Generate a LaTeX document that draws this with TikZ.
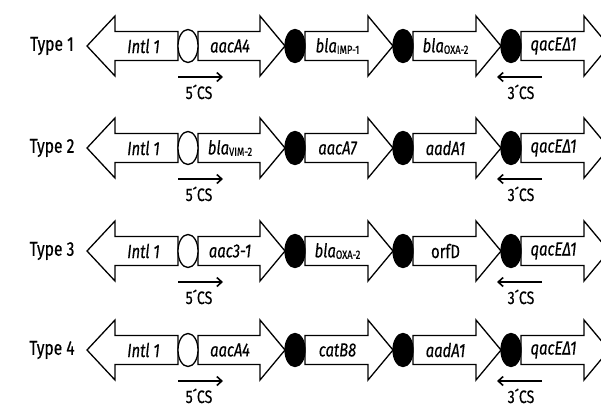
\documentclass[tikz,border=0pt]{standalone}
\usepackage{fontspec}
\setmainfont{Fira Sans}[FakeStretch=0.78, FakeBold=0.4]
\usetikzlibrary{arrows.meta}
\tikzset{
  gene/.style={draw=black, line width=1.3pt, fill=white, line join=miter},
  site/.style={draw=black, line width=1.3pt},
  attI/.style={site, fill=white},
  attC/.style={site, fill=black},
  glabel/.style={font=\fontsize{19}{19}\selectfont\itshape, inner sep=0pt},
  rowlabel/.style={font=\fontsize{20}{20}\selectfont, inner sep=0pt},
  cslabel/.style={font=\fontsize{18}{18}\selectfont, inner sep=0pt, text depth=0pt, anchor=base},
  primer/.style={line width=1.8pt, -{Straight Barb[length=5pt,width=9pt,line width=1.6pt]}},
}
% left-pointing (integrase) and right-pointing (cassette) gene arrows
\newcommand{\leftgene}[4]{% name, body right x, head base x, tip x  (y = \rowy)
  \draw[gene] (#4,\rowy) -- (#3,\rowy-30) -- (#3,\rowy-14.5) -- (#2,\rowy-14.5)
    -- (#2,\rowy+14.5) -- (#3,\rowy+14.5) -- (#3,\rowy+30) -- cycle;
  \coordinate (#1) at ({(#2+#3)/2-3},\rowy);}
\newcommand{\rightgene}[4]{% name, body left x, head base x, tip x
  \draw[gene] (#2,\rowy-14.5) -- (#3,\rowy-14.5) -- (#3,\rowy-30) -- (#4,\rowy)
    -- (#3,\rowy+30) -- (#3,\rowy+14.5) -- (#2,\rowy+14.5) -- cycle;
  \coordinate (#1) at ({(#2+#3)/2+1},\rowy);}
\newcommand{\cassette}[6]{% row y, label, gene1, gene2, gene3, gene4
  \def\rowy{#1}
  \node[rowlabel] at (52,\rowy) {#2};
  \leftgene{int}{178}{115}{87}
  \rightgene{g1}{198}{260}{285}
  \rightgene{g2}{305}{368}{393}
  \rightgene{g3}{413}{476}{501}
  \rightgene{g4}{521}{584}{609}
  \draw[attI] (188,\rowy) ellipse [x radius=10, y radius=16.5];
  \draw[attC] (295,\rowy) ellipse [x radius=10, y radius=16.5];
  \draw[attC] (403,\rowy) ellipse [x radius=10, y radius=16.5];
  \draw[attC] (511,\rowy) ellipse [x radius=10, y radius=16.5];
  \node[glabel] at (int) {Intl 1};
  \node[glabel] at (g1) {#3};
  \node[glabel] at (g2) {#4};
  \node[glabel] at (g3) {#5};
  \node[glabel] at (g4) {#6};
  \coordinate (p5a) at (178,\rowy+31);
  \coordinate (p5b) at (223,\rowy+31);
  \coordinate (p3a) at (542,\rowy+31);
  \coordinate (p3b) at (497,\rowy+31);
  \draw[primer] (p5a) -- (p5b);
  \draw[primer] (p3a) -- (p3b);
  \node[cslabel] at (199,\rowy+53) {5´CS};
  \node[cslabel] at (521,\rowy+53) {3´CS};}
\newcommand{\sub}[1]{{\upshape\fontsize{12}{12}\selectfont\raisebox{-1.5pt}{#1}}}
\begin{document}
\begin{tikzpicture}[x=1pt, y=-1pt]
  \useasboundingbox (0,0) rectangle (601,408);
  \clip (0,0) rectangle (601,408);
  \cassette{46}{Type 1}{aacA4}{bla\sub{IMP-1}}{bla\sub{OXA-2}}{qacEΔ1}
  \cassette{148}{Type 2}{bla\sub{VIM-2}}{aacA7}{aadA1}{qacEΔ1}
  \cassette{251}{Type 3}{aac3-1}{bla\sub{OXA-2}}{\upshape orfD}{qacEΔ1}
  \cassette{350}{Type 4}{aacA4}{catB8}{aadA1}{qacEΔ1}
\end{tikzpicture}
\end{document}
